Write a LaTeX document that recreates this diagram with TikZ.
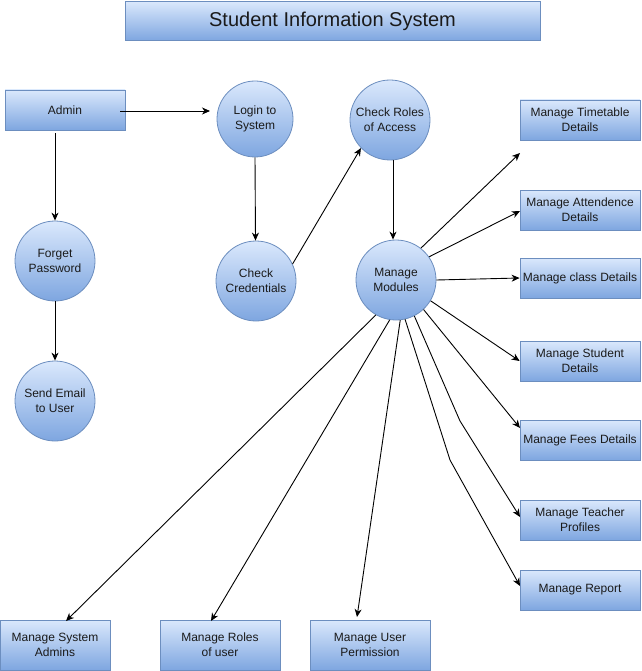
\documentclass[tikz,border=0pt]{standalone}
\usepackage{fontspec}
\setmainfont{Liberation Sans}
\usetikzlibrary{arrows.meta,shapes.geometric}
\definecolor{topc}{HTML}{DAE8FC}
\definecolor{botc}{HTML}{7EA6E0}
\definecolor{boxline}{HTML}{6C8EBF}
\definecolor{txt}{HTML}{1A1A1A}
\begin{document}
\begin{tikzpicture}[x=1pt,y=-1pt,
  base/.style={draw=boxline, line width=0.8pt, top color=topc, bottom color=botc, text=txt,
    font=\fontsize{12}{15}\selectfont, align=center, inner sep=0pt},
  box/.style={base, rectangle, minimum width=120pt, minimum height=40pt},
  proc/.style={base, circle, minimum size=80pt},
  conn/.style={draw=black, line width=0.9pt, -{Stealth[length=8pt,width=7pt,inset=2.5pt]}}]
\useasboundingbox (0,0) rectangle (641,671);
\fill[white] (0,0) rectangle (641,671);
% nodes
\node[box, minimum width=415pt, minimum height=39pt, font=\fontsize{20}{24}\selectfont] (title) at (332.5,21) {Student Information System};
\node[box] (admin) at (65,110) {Admin};
\node[proc, minimum size=76pt] (login) at (255,119) {Login to\\System};
\node[proc] (cred) at (256,281) {Check\\Credentials};
\node[proc] (roles) at (390,120) {Check Roles\\of Access};
\node[proc] (mm) at (396,280) {Manage\\Modules};
\node[proc] (fp) at (55,261) {Forget\\Password};
\node[proc] (se) at (55,401) {Send Email\\to User};
\node[box] (tt) at (580,120) {Manage Timetable\\Details};
\node[box] (at) at (580,210) {Manage Attendence\\Details};
\node[box] (cl) at (580,278) {Manage class Details};
\node[box] (st) at (580,361) {Manage Student\\Details};
\node[box] (fe) at (580,440) {Manage Fees Details};
\node[box] (te) at (580,520) {Manage Teacher\\Profiles};
\node[box] (re) at (580,590) {Manage Report};
\node[box, minimum width=110pt, minimum height=50pt] (sa) at (55,645) {Manage System\\Admins};
\node[box, minimum height=50pt] (ru) at (220,645) {Manage Roles\\of user};
\node[box, minimum height=50pt] (up) at (370,645) {Manage User\\Permission};
% free ends
\coordinate (ttend) at (520,153);
\coordinate (atend) at (520,211);
\coordinate (feend) at (520,428);
\coordinate (tebend) at (460,421);
\coordinate (teend) at (520,517);
\coordinate (rebend) at (450,460);
\coordinate (reend) at (520,586);
\coordinate (saend) at (66,621);
\coordinate (ruend) at (211,621);
\coordinate (upend) at (357,617);
\coordinate (loginstart) at (120,111);
\coordinate (loginend) at (210,111);
% connectors
\draw[conn] (loginstart) -- (loginend);
\draw[conn] ([yshift=-3pt]admin.south -| fp.north) -- (fp.north);
\draw[conn] (fp.south) -- (se.north);
\draw[conn] (login.south) -- ([xshift=-0.5pt]cred.north);
\draw[conn] (cred.25) -- (roles.224);
\draw[conn] ([xshift=3pt]roles.south) -- ([xshift=-3pt]mm.north);
\draw[conn] (mm.52) -- (ttend);
\draw[conn] (mm.35) -- (atend);
\draw[conn] (mm.east) -- (cl.west);
\draw[conn] (mm.-31) -- (st.west);
\draw[conn] (mm.-47) -- (feend);
\draw[conn] (mm.-63) -- (tebend) -- (teend);
\draw[conn] (mm.-77) -- (rebend) -- (reend);
\draw[conn] (mm.-120) -- (saend);
\draw[conn] (mm.-99) -- (ruend);
\draw[conn] (mm.-84) -- (upend);
\end{tikzpicture}
\end{document}
